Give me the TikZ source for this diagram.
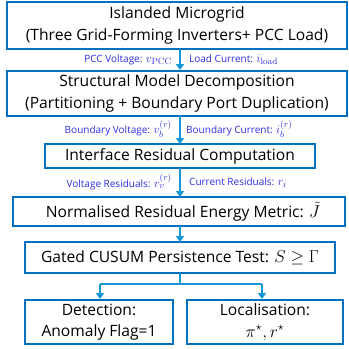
\documentclass[tikz,border=0pt]{standalone}
\usepackage[no-math]{fontspec}
\setmainfont{Open Sans}
\usetikzlibrary{arrows.meta}
\definecolor{boxc}{RGB}{0,112,192}
\definecolor{arrc}{RGB}{21,150,215}
\definecolor{labc}{RGB}{45,45,225}
\newcommand{\lm}[1]{{\fontsize{12.5}{13}\selectfont$#1$}}
\newcommand{\bm}[1]{{\fontsize{17.5}{21.5}\selectfont$#1$}}
\tikzset{
  blk/.style={draw=boxc, line width=2pt, inner sep=0pt, align=center, font=\fontsize{15.6}{21.5}\selectfont},
  flow/.style={draw=arrc, line width=1.6pt, -{Triangle[length=6pt,width=8pt]}},
  lnk/.style={draw=arrc, line width=1.6pt},
  lbl/.style={text=labc, font=\fontsize{10}{11}\selectfont, inner sep=0pt},
}
\begin{document}
\begin{tikzpicture}[x=1pt,y=1pt]
\useasboundingbox (0,0) rectangle (349,-349);
\node[blk, minimum width=340pt, minimum height=47pt] (b1) at (177,-25.5) {Islanded Microgrid\\(Three Grid-Forming Inverters+ PCC Load)};
\node[blk, minimum width=340pt, minimum height=45pt] (b2) at (177,-93.5) {Structural Model Decomposition\\(Partitioning + Boundary Port Duplication)};
\node[blk, minimum width=270pt, minimum height=24pt] (b3) at (180,-156) {Interface Residual Computation};
\node[blk, minimum width=332pt, minimum height=29pt] (b4) at (179,-211.5) {\hspace*{8pt}Normalised Residual Energy Metric: \bm{\tilde{J}}};
\node[blk, minimum width=310pt, minimum height=31pt] (b5) at (180,-257.5) {Gated CUSUM Persistence Test: \bm{S \geq \Gamma}};
\node[blk, minimum width=148pt, minimum height=44pt] (b6) at (99,-322) {Detection:\\Anomaly Flag=1};
\node[blk, minimum width=156pt, minimum height=44pt] (b7) at (265,-322) {Localisation:\\\bm{\pi^{\star}, r^{\star}}};
\coordinate (s1) at (180,-48.5);
\coordinate (e1) at (180,-70);
\coordinate (s2) at (180,-116);
\coordinate (e2) at (180,-144);
\coordinate (s3) at (180,-168);
\coordinate (e3) at (180,-197);
\coordinate (s4) at (180,-226);
\coordinate (e4) at (180,-242);
\coordinate (s5) at (180,-273);
\coordinate (j) at (180,-284);
\coordinate (jl) at (100,-284);
\coordinate (jr) at (262,-284);
\draw[flow] (s1) -- (e1);
\draw[flow] (s2) -- (e2);
\draw[flow] (s3) -- (e3);
\draw[flow] (s4) -- (e4);
\draw[lnk] (s5) -- (j);
\draw[lnk] (jl) -- (jr);
\draw[flow] (jl) -- (jl |- b6.north);
\draw[flow] (jr) -- (jr |- b7.north);
\node[lbl, anchor=east] (l1a) at (172,-60) {PCC Voltage: \lm{v_{\mathrm{PCC}}}};
\node[lbl, anchor=west] (l1b) at (189,-60) {Load Current: \lm{i_{\mathrm{load}}}};
\node[lbl, anchor=east] (l2a) at (172,-129) {Boundary Voltage: \lm{v_b^{(r)}}};
\node[lbl, anchor=west] (l2b) at (186,-129) {Boundary Current: \lm{i_b^{(r)}}};
\node[lbl, anchor=east] (l3a) at (172,-182) {Voltage Residuals: \lm{r_v^{(r)}}};
\node[lbl, anchor=west] (l3b) at (189,-183) {Current Residuals: \lm{r_i}};
\end{tikzpicture}
\end{document}
